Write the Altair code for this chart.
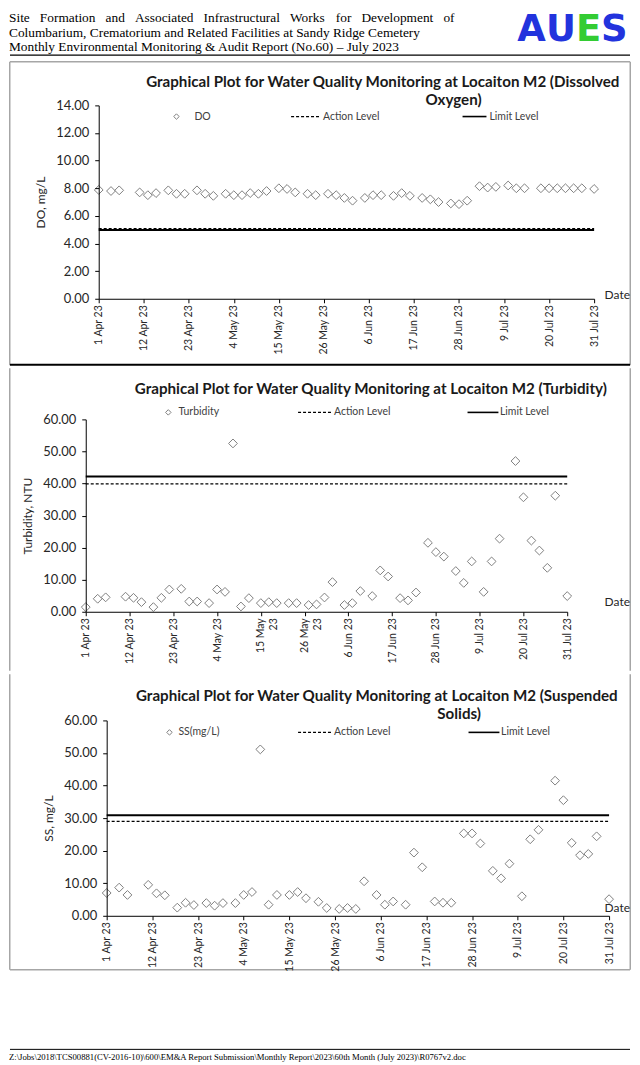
import altair as alt
import pandas as pd

# ---------------- data ----------------
dates = [
    "2023-04-01", "2023-04-04", "2023-04-06", "2023-04-11", "2023-04-13", "2023-04-15",
    "2023-04-18", "2023-04-20", "2023-04-22", "2023-04-25", "2023-04-27", "2023-04-29",
    "2023-05-02", "2023-05-04", "2023-05-06", "2023-05-08", "2023-05-10", "2023-05-12",
    "2023-05-15", "2023-05-17", "2023-05-19", "2023-05-22", "2023-05-24", "2023-05-27",
    "2023-05-29", "2023-05-31",
    "2023-06-02", "2023-06-05", "2023-06-07", "2023-06-09", "2023-06-12", "2023-06-14",
    "2023-06-16", "2023-06-19", "2023-06-21", "2023-06-23", "2023-06-26", "2023-06-28",
    "2023-06-30",
    "2023-07-03", "2023-07-05", "2023-07-07", "2023-07-10", "2023-07-12", "2023-07-14",
    "2023-07-18", "2023-07-20", "2023-07-22", "2023-07-24", "2023-07-26", "2023-07-28",
    "2023-07-31",
]

do_values = [
    7.88, 7.80, 7.85, 7.70, 7.50, 7.65, 7.85, 7.60, 7.60, 7.85, 7.60, 7.45,
    7.60, 7.50, 7.50, 7.65, 7.60, 7.80, 8.00, 7.95, 7.70, 7.60, 7.50, 7.60, 7.50, 7.30,
    7.10, 7.30, 7.50, 7.50, 7.45, 7.65, 7.45, 7.30, 7.20, 7.00, 6.90, 6.85, 7.10,
    8.15, 8.05, 8.10, 8.20, 8.00, 8.00, 8.00, 8.00, 8.00, 8.00, 8.00, 8.00, 7.95,
]

turbidity_values = [
    1.45, 4.05, 4.50, 4.70, 4.35, 3.00, 1.45, 4.35, 6.95, 7.15, 3.20, 3.20,
    2.70, 6.95, 6.20, 52.5, 1.65, 4.25, 2.70, 3.00, 2.70, 2.70, 2.70, 2.10, 2.30, 4.45,
    9.25, 2.10, 2.70, 6.45, 4.90, 12.9, 11.0, 4.25, 3.55, 6.00, 21.5, 18.6, 17.2,
    12.7, 9.00, 15.7, 6.20, 15.7, 22.8, 47.0, 35.7, 22.2, 19.1, 13.7, 36.2, 4.90,
]

ss_values = [
    7.00, 8.65, 6.40, 9.50, 6.90, 6.30, 2.50, 4.00, 3.30, 3.90, 3.10, 3.90,
    3.90, 6.40, 7.30, 51.1, 3.40, 6.40, 6.40, 7.30, 5.40, 4.30, 2.40, 2.10, 2.40, 2.10,
    10.6, 6.40, 3.40, 4.40, 3.40, 19.4, 14.9, 4.40, 4.00, 4.00, 25.3, 25.3, 22.2,
    13.8, 11.5, 16.0, 6.00, 23.5, 26.4, 41.5, 35.5, 22.4, 18.6, 19.0, 24.4, 5.10,
]

do_levels = [5.08, 4.98]          # action, limit
turbidity_levels = [39.9, 42.2]   # action, limit
ss_levels = [29.0, 30.9]          # action, limit
level_names = ["Action Level", "Limit Level"]

tick_dates = [
    "2023-04-01", "2023-04-12", "2023-04-23", "2023-05-04", "2023-05-15", "2023-05-26",
    "2023-06-06", "2023-06-17", "2023-06-28", "2023-07-09", "2023-07-20", "2023-07-31",
]

header_lines = [
    "Site Formation and Associated Infrastructural Works for Development of",
    "Columbarium, Crematorium and Related Facilities at Sandy Ridge Cemetery",
    "Monthly Environmental Monitoring & Audit Report (No.60) \u2013 July 2023",
]
logo_letters = ["A", "U", "E", "S"]
logo_colors = ["#2233dd", "#2233dd", "#33cc33", "#2233dd"]
footer_text = r"Z:\Jobs\2018\TCS00881(CV-2016-10)\600\EM&A Report Submission\Monthly Report\2023\60th Month (July 2023)\R0767v2.doc"

# ---------------- helpers ----------------
FONT = "Lato"
W = 525
LEFT = 77
RIGHT = W + 22
FRAME = "#a6a6a6"
ONE = pd.DataFrame({"k": [0]})

# Times-like advance widths (per em) used to justify the first header line
SERIF_W = {
    " ": .25, "S": .556, "F": .556, "A": .722, "I": .333, "W": .944, "D": .722,
    "a": .444, "b": .5, "c": .444, "d": .5, "e": .444, "f": .333, "g": .5, "h": .5,
    "i": .278, "k": .5, "l": .278, "m": .778, "n": .5, "o": .5, "p": .5, "r": .333,
    "s": .389, "t": .278, "u": .5, "v": .5, "w": .722, "y": .5,
}


def dt(s):
    y, m, d = (int(v) for v in s.split("-"))
    return alt.DateTime(year=y, month=m, date=d, utc=True)


def text_layer(text, x, y, size, font=FONT, weight="normal", color="#000000",
               align="left", baseline="middle"):
    return alt.Chart(ONE).mark_text(
        font=font, fontSize=size, fontWeight=weight, color=color,
        align=align, baseline=baseline,
    ).encode(x=alt.value(x), y=alt.value(y), text=alt.value(text))


def hrule(x1, x2, y, color="#000000", width=1.0, dash=None):
    kw = dict(color=color, strokeWidth=width)
    if dash:
        kw["strokeDash"] = dash
    return alt.Chart(ONE).mark_rule(**kw).encode(
        x=alt.value(x1), x2=alt.value(x2), y=alt.value(y))


def vrule(x, y1, y2, color=FRAME, width=1.5):
    return alt.Chart(ONE).mark_rule(color=color, strokeWidth=width).encode(
        x=alt.value(x), y=alt.value(y1), y2=alt.value(y2))


def bounds_rect(y1, y2):
    return alt.Chart(ONE).mark_rect(color="white").encode(
        x=alt.value(-LEFT), x2=alt.value(RIGHT), y=alt.value(y1), y2=alt.value(y2))


def panel(values, levels, series_name, ytitle, ymax, ystep, xr, h, top, bottom,
          titles, legend_y, lg, date_dy, wrap_may, frame_top, frame_bottom,
          bounds_bottom=None):
    if bounds_bottom is None:
        bounds_bottom = bottom
    df = pd.DataFrame({"date": dates, "value": values})
    lv = pd.DataFrame({
        "date": [tick_dates[0]] * 2,
        "date2": [tick_dates[-1]] * 2,
        "value": levels,
        "kind": level_names,
    })

    if wrap_may:
        label_expr = ("(utcmonth(datum.value) == 4 && utcdate(datum.value) > 10) ? "
                      "[utcFormat(datum.value, '%-d %b'), utcFormat(datum.value, '%y')] : "
                      "utcFormat(datum.value, '%-d %b %y')")
    else:
        label_expr = "utcFormat(datum.value, '%-d %b %y')"

    x_enc = alt.X(
        "date:T",
        scale=alt.Scale(type="utc", domain=[dt(tick_dates[0]), dt(tick_dates[-1])],
                        range=[xr[0], xr[1]], nice=False),
        axis=alt.Axis(
            values=[dt(s) for s in tick_dates], labelExpr=label_expr,
            labelAngle=270, labelAlign="right", labelBaseline="middle",
            labelFont=FONT, labelFontSize=10.5, labelColor="#262626",
            labelOverlap=False, labelPadding=2, labelBound=False,
            tickSize=4, tickColor="#000000", domainColor="#000000", domainWidth=1,
            grid=False, zindex=1,
            title="Date", titleX=520, titleY=date_dy, titleAngle=0,
            titleAlign="left", titleBaseline="middle", titleFont=FONT,
            titleFontSize=12, titleFontWeight="normal", titleColor="#262626",
        ),
    )
    y_enc = alt.Y(
        "value:Q",
        scale=alt.Scale(domain=[0, ymax], nice=False),
        axis=alt.Axis(
            values=list(range(0, ymax + 1, ystep)), format=".2f", offset=-xr[0],
            labelFont=FONT, labelFontSize=13, labelColor="#262626", labelPadding=6,
            tickSize=4, tickColor="#000000", domainColor="#000000", domainWidth=1,
            grid=False, zindex=1, title=ytitle, titleFont=FONT, titleFontSize=12,
            titleFontWeight="normal", titleColor="#262626", titlePadding=8,
        ),
    )

    layers = [bounds_rect(-top, bounds_bottom)]

    pts = alt.Chart(df).mark_point(
        shape="diamond", filled=False, color="#7f7f7f", size=78, strokeWidth=1, opacity=1
    ).encode(x=x_enc, y=y_enc)
    action = alt.Chart(lv.iloc[[0]]).mark_rule(
        color="#000000", strokeWidth=1.3, strokeDash=[3, 2]
    ).encode(x=x_enc, x2="date2:T", y=y_enc)
    limit = alt.Chart(lv.iloc[[1]]).mark_rule(
        color="#000000", strokeWidth=2
    ).encode(x=x_enc, x2="date2:T", y=y_enc)
    layers += [action, limit, pts]

    for t, tx, ty in titles:
        layers.append(text_layer(t, tx, ty, 15.2, weight="bold", color="#1a1a1a",
                                 align="center"))

    # legend
    d_x, name_x, a1, a2, a_txt, l1, l2, l_txt = lg
    layers.append(alt.Chart(ONE).mark_point(
        shape="diamond", filled=False, color="#7f7f7f", size=30, strokeWidth=1, opacity=1
    ).encode(x=alt.value(d_x), y=alt.value(legend_y)))
    layers.append(text_layer(series_name, name_x, legend_y, 10.5, color="#404040"))
    layers.append(hrule(a1, a2, legend_y, width=1.2, dash=[3, 2]))
    layers.append(text_layer(level_names[0], a_txt, legend_y, 10.5, color="#404040"))
    layers.append(hrule(l1, l2, legend_y, width=1.6))
    layers.append(text_layer(level_names[1], l_txt, legend_y, 10.5, color="#404040"))

    # frame (kept inside the white bounds so it does not widen the layout)
    layers.append(vrule(-LEFT + 0.75, -top + 0.75, bottom - 0.75))
    layers.append(vrule(RIGHT - 0.75, -top + 0.75, bottom - 0.75))
    if frame_top:
        layers.append(hrule(-LEFT + 1, RIGHT - 1, -top + 0.75, color=FRAME, width=1.5))
    if frame_bottom == "black":
        layers.append(hrule(-LEFT + 1, RIGHT - 1, bottom - 1.2, color="#000000", width=2))
    elif frame_bottom == "gray":
        layers.append(hrule(-LEFT + 1, RIGHT - 1, bottom - 0.75, color=FRAME, width=1.5))

    return alt.layer(*layers).properties(width=W, height=h)


# ---------------- header ----------------
HFS = 13.4
header_layers = [bounds_rect(0, 49)]
# first line: justified across the text block (page x 8 .. 455)
words = header_lines[0].split(" ")
word_w = [sum(SERIF_W.get(ch, .5) for ch in wd) * HFS for wd in words]
gap = (447 - sum(word_w)) / (len(words) - 1)
cx = -LEFT
for wd, ww in zip(words, word_w):
    header_layers.append(text_layer(wd, cx, 0.5, HFS, font="Liberation Serif", baseline="top"))
    cx += ww + gap
for i, line in enumerate(header_lines[1:], start=1):
    header_layers.append(text_layer(line, -LEFT, 0.5 + 14.5 * i, HFS,
                                    font="Liberation Serif", baseline="top"))
logo_x = [433, 461.6, 491.7, 517]
for letter, lx, col in zip(logo_letters, logo_x, logo_colors):
    header_layers.append(text_layer(letter, lx, 1.2, 37, font="DejaVu Sans", weight="bold",
                                    color=col, baseline="top"))
header_layers.append(hrule(-LEFT + 1, RIGHT - 1, 44.5, width=1.2))
header = alt.layer(*header_layers).properties(width=W, height=49)

# ---------------- panels ----------------
p1 = panel(
    do_values, do_levels, "DO", "DO, mg/L", 14, 2, (13, 510), 194, 44.5, 261.5,
    [("Graphical Plot for Water Quality Monitoring at Locaiton M2  (Dissolved", 298, -23.5),
     ("Oxygen)", 369, -5.5)],
    11.2, (91, 109, 206, 235, 238, 378, 402, 405), -4.5, False, True, "black",
)
p2 = panel(
    turbidity_values, turbidity_levels, "Turbidity", "Turbidity, NTU", 60, 10, (0, 483),
    193, 52, 253,
    [("Graphical Plot for Water Quality Monitoring at Locaiton M2 (Turbidity)", 286, -30)],
    -7, (82.8, 93, 213, 247.5, 249, 383, 414, 415.5), -10.3, True, False, None,
)
p3 = panel(
    ss_values, ss_levels, "SS(mg/L)", "SS, mg/L", 60, 10, (21, 525), 196, 47, 251,
    [("Graphical Plot for Water Quality Monitoring at Locaiton M2  (Suspended", 292, -24),
     ("Solids)", 374.6, -6.3)],
    12, (84, 93, 213, 247, 249, 384, 415, 416.6), -8.8, False, False, "gray",
    bounds_bottom=266,
)

# ---------------- footer ----------------
footer = alt.layer(
    bounds_rect(0, 77),
    hrule(-LEFT + 1, RIGHT - 1, 62, width=1),
    text_layer(footer_text, -LEFT, 70, 8.7, font="Liberation Serif", baseline="middle"),
).properties(width=W, height=77)

chart = (
    alt.vconcat(header, p1, p2, p3, footer, spacing=0)
    .properties(padding=0, background="white")
    .configure_view(stroke="transparent")
    .configure_concat(spacing=0)
)

chart.save("out.html", embed_options={"renderer": "svg", "actions": False})
